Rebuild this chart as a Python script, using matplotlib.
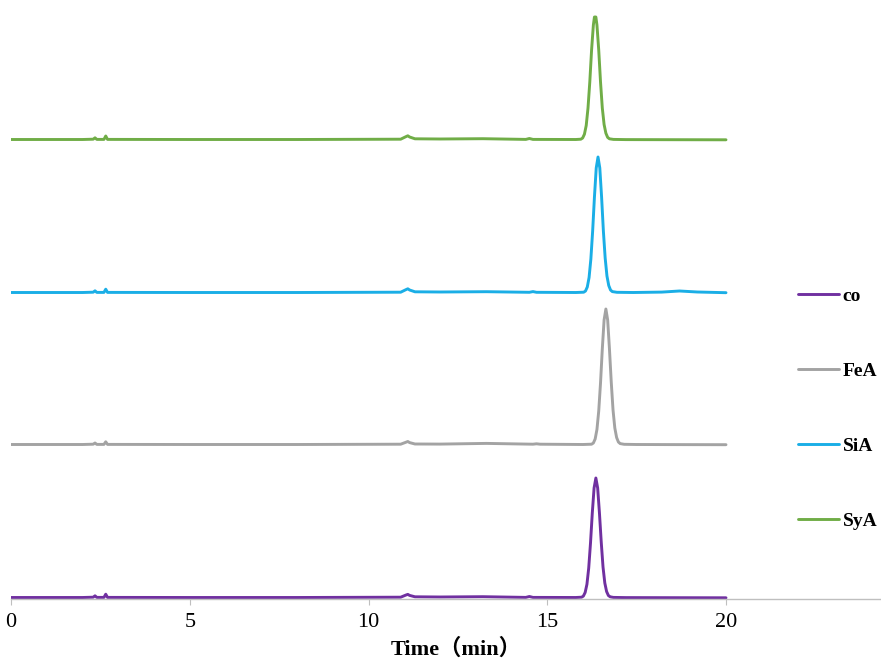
import matplotlib
matplotlib.use("Agg")
import matplotlib.pyplot as plt

# retention time (min) and detector signal
t_co = [0, 2.0, 2.3, 2.35, 2.4, 2.6, 2.65, 2.7, 5.0, 8.0, 10.9, 11.05, 11.1, 11.15, 11.3,
        12.0, 13.2, 14.4, 14.5, 14.6, 15.8, 15.96, 16.01, 16.06, 16.11, 16.16, 16.21,
        16.26, 16.31, 16.36, 16.41, 16.46, 16.51, 16.56, 16.61, 16.66, 16.71, 16.76,
        16.85, 17.2, 18.5, 20.0]
y_co = [0.5, 0.5, 0.8, 2.2, 0.6, 0.6, 3.8, 0.6, 0.5, 0.5, 0.8, 3.0, 3.6, 2.6, 1.2,
        1.0, 1.3, 0.6, 1.5, 0.6, 0.5, 0.8, 1.9, 5.5, 13.7, 30, 55,
        85, 110, 120, 110, 85, 56, 31, 15, 6.5, 2.5, 1.2,
        0.6, 0.4, 0.3, 0.2]

t_fea = [0, 2.0, 2.3, 2.35, 2.4, 2.6, 2.65, 2.7, 5.0, 8.0, 10.9, 11.05, 11.1, 11.15, 11.3,
         12.0, 13.3, 14.6, 14.7, 14.8, 16.0, 16.24, 16.29, 16.34, 16.39, 16.44, 16.49,
         16.54, 16.59, 16.64, 16.69, 16.74, 16.79, 16.84, 16.89, 16.94, 16.99, 17.04,
         17.15, 17.5, 18.5, 20.0]
y_fea = [0.5, 0.5, 0.8, 2.0, 0.6, 0.6, 3.2, 0.6, 0.5, 0.5, 0.8, 2.8, 3.5, 2.4, 1.0,
         0.9, 1.6, 0.8, 1.2, 0.8, 0.5, 0.8, 2.0, 6.0, 15.5, 34, 62,
         96, 125, 136, 125, 96, 63, 35, 17, 7.5, 3.0, 1.4,
         0.7, 0.5, 0.4, 0.3]

t_sia = [0, 2.0, 2.3, 2.35, 2.4, 2.6, 2.65, 2.7, 5.0, 8.0, 10.9, 11.05, 11.1, 11.15, 11.3,
         12.0, 13.3, 14.5, 14.6, 14.7, 15.8, 16.02, 16.07, 16.12, 16.17, 16.22, 16.27,
         16.32, 16.37, 16.42, 16.47, 16.52, 16.57, 16.62, 16.67, 16.72, 16.77, 16.82,
         16.95, 17.4, 18.2, 18.7, 19.2, 20.0]
y_sia = [0.5, 0.5, 0.8, 2.2, 0.6, 0.6, 3.8, 0.6, 0.5, 0.5, 0.8, 3.4, 4.2, 3.0, 1.2,
         1.0, 1.3, 0.7, 1.4, 0.7, 0.5, 0.8, 2.0, 6.0, 15.5, 34, 62,
         96, 125, 136, 125, 96, 62, 35, 17, 7.5, 3.0, 1.4,
         0.7, 0.5, 0.9, 2.0, 1.0, 0.3]

t_sya = [0, 2.0, 2.3, 2.35, 2.4, 2.6, 2.65, 2.7, 5.0, 8.0, 10.9, 11.05, 11.1, 11.15, 11.3,
         12.0, 13.2, 14.4, 14.5, 14.6, 15.8, 15.94, 15.99, 16.04, 16.09, 16.14, 16.19,
         16.24, 16.29, 16.32, 16.36, 16.39, 16.44, 16.49, 16.54, 16.59, 16.64, 16.69,
         16.74, 16.85, 17.2, 18.5, 20.0]
y_sya = [0.5, 0.5, 0.8, 2.2, 0.6, 0.6, 4.0, 0.6, 0.5, 0.5, 0.8, 3.4, 4.2, 3.0, 1.2,
         1.0, 1.3, 0.6, 1.5, 0.6, 0.5, 0.8, 2.0, 5.8, 14.5, 32, 58,
         90, 115, 123, 123, 115, 90, 58, 32, 15.5, 6.8, 2.6,
         1.2, 0.6, 0.4, 0.3, 0.2]

labels = ["co", "FeA", "SiA", "SyA"]
series_t = [t_co, t_fea, t_sia, t_sya]
series_y = [y_co, y_fea, y_sia, y_sya]
offsets = [1, 154, 306, 459]
colors = ["#7030A0", "#A3A3A3", "#1AAEE6", "#70AD47"]

fig = plt.figure(figsize=(8.81, 6.61), dpi=100)
ax = fig.add_axes([11 / 881, 1 - 599 / 661, 1 - 11 / 881, 599 / 661])

for t, y, off, c, lab in zip(series_t, series_y, offsets, colors, labels):
    ax.plot(t, [v + off for v in y], color=c, lw=2.1, label=lab, solid_capstyle="round")

ax.set_xlim(0, 870 / 35.75)
ax.set_ylim(0, 599)
ax.set_xticks([0, 5, 10, 15, 20])
ax.set_xticklabels(["0", "5", "10", "15", "20"], fontfamily="Liberation Serif", fontsize=16)
ax.set_yticks([])
for s in ["top", "right", "left"]:
    ax.spines[s].set_visible(False)
ax.spines["bottom"].set_color("#BFBFBF")
ax.spines["bottom"].set_linewidth(1.0)
ax.tick_params(axis="x", direction="out", length=4, color="#BFBFBF", pad=6)
ax.set_xlabel("Time（min）", family=["Liberation Serif", "Noto Sans CJK SC"],
              fontweight="bold", fontsize=16, labelpad=5)
ax.xaxis.label.set_x((456 - 11) / 870)

leg = ax.legend(loc="center left", bbox_to_anchor=(798 / 881, 1 - 408.5 / 661),
                bbox_transform=fig.transFigure, frameon=False, borderpad=0,
                borderaxespad=0, handlelength=2.1, handletextpad=0.2, labelspacing=2.95,
                prop={"family": "Liberation Serif", "weight": "bold", "size": 14})

plt.savefig("out.png", dpi=100)
